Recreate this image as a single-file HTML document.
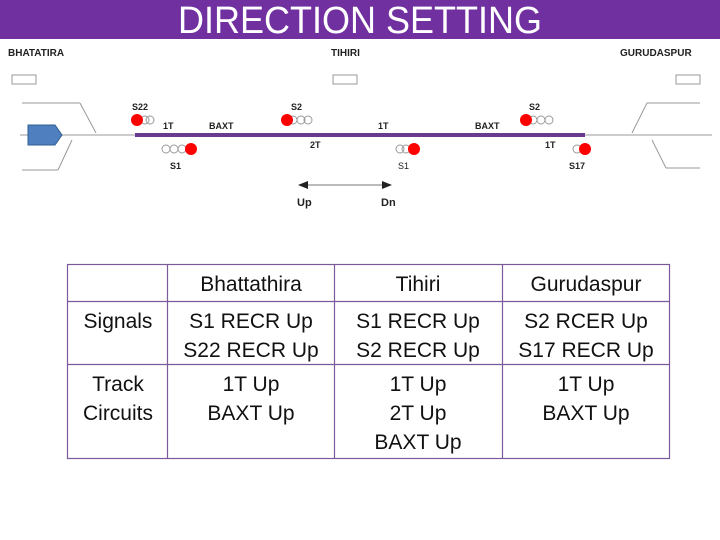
<!DOCTYPE html>
<html><head><meta charset="utf-8"><style>
body{margin:0;background:#fff}
svg{display:block}
</style></head><body>
<svg width="720" height="540" viewBox="0 0 720 540" font-family="Liberation Sans, sans-serif">
<rect x="0" y="0" width="720" height="39" fill="#7030a0"/>
<text x="360" y="33" text-anchor="middle" fill="#fff" font-size="38" textLength="364" lengthAdjust="spacingAndGlyphs">DIRECTION SETTING</text>
<g font-weight="bold" font-size="9" fill="#222">
<text x="8" y="56" font-size="10">BHATATIRA</text>
<text x="331" y="56" font-size="10">TIHIRI</text>
<text x="620" y="56" font-size="10">GURUDASPUR</text>
<g fill="none" stroke="#999" stroke-width="1">
<rect x="12" y="75" width="24" height="9"/><rect x="333" y="75" width="24" height="9"/><rect x="676" y="75" width="24" height="9"/>
<line x1="20" y1="135" x2="135" y2="135"/><line x1="585" y1="135" x2="712" y2="135"/>
<line x1="22" y1="103" x2="80" y2="103"/><line x1="80" y1="103" x2="96" y2="133"/>
<line x1="22" y1="170" x2="58" y2="170"/><line x1="58" y1="170" x2="72" y2="140"/>
<line x1="700" y1="103" x2="647" y2="103"/><line x1="647" y1="103" x2="632" y2="133"/>
<line x1="700" y1="168" x2="666" y2="168"/><line x1="666" y1="168" x2="652" y2="140"/>
<circle cx="145" cy="120" r="4"/><circle cx="150" cy="120" r="4"/>
<circle cx="293" cy="120" r="4"/><circle cx="301" cy="120" r="4"/><circle cx="308" cy="120" r="4"/>
<circle cx="166" cy="149" r="4"/><circle cx="174" cy="149" r="4"/><circle cx="182" cy="149" r="4"/>
<circle cx="400" cy="149" r="4"/><circle cx="406" cy="149" r="4"/>
<circle cx="533" cy="120" r="4"/><circle cx="541" cy="120" r="4"/><circle cx="549" cy="120" r="4"/>
<circle cx="577" cy="149" r="4"/>
</g>
<rect x="135" y="133" width="450" height="4" fill="#6a3a8e"/>
<polygon points="28,125 55,125 62,135 55,145 28,145" fill="#4f7fbf" stroke="#2f5f8f"/>
<g fill="#f00">
<circle cx="137" cy="120" r="6"/>
<circle cx="287" cy="120" r="6"/>
<circle cx="191" cy="149" r="6"/>
<circle cx="414" cy="149" r="6"/>
<circle cx="526" cy="120" r="6"/>
<circle cx="585" cy="149" r="6"/>
</g>
<text x="132" y="110">S22</text><text x="291" y="110">S2</text><text x="170" y="169">S1</text>
<text x="163" y="129">1T</text><text x="209" y="129">BAXT</text><text x="310" y="148">2T</text>
<text x="378" y="129">1T</text><text x="475" y="129">BAXT</text><text x="545" y="148">1T</text>
<text x="398" y="169" font-weight="normal">S1</text><text x="529" y="110">S2</text><text x="569" y="169">S17</text>
<line x1="300" y1="185" x2="390" y2="185" stroke="#777"/>
<polygon points="298,185 308,181 308,189" fill="#222"/><polygon points="392,185 382,181 382,189" fill="#222"/>
<text x="297" y="206" font-size="11">Up</text>
<text x="381" y="206" font-size="11">Dn</text>
</g>
<g stroke="#7a5a9a" stroke-width="1.2" fill="none">
<rect x="67.5" y="264.5" width="602" height="194"/>
<line x1="167.5" y1="264" x2="167.5" y2="458"/><line x1="334.5" y1="264" x2="334.5" y2="458"/><line x1="502.5" y1="264" x2="502.5" y2="458"/>
<line x1="67" y1="301.5" x2="669" y2="301.5"/><line x1="67" y1="364.5" x2="669" y2="364.5"/>
</g>
<g font-size="21" fill="#111" text-anchor="middle">
<text x="251" y="291">Bhattathira</text>
<text x="418" y="291">Tihiri</text>
<text x="586" y="291">Gurudaspur</text>
<text x="118" y="328">Signals</text>
<text x="118" y="391">Track</text>
<text x="118" y="420">Circuits</text>
<text x="251" y="328">S1 RECR Up</text><text x="251" y="357">S22 RECR Up</text>
<text x="418" y="328">S1 RECR Up</text><text x="418" y="357">S2 RECR Up</text>
<text x="586" y="328">S2 RCER Up</text><text x="586" y="357">S17 RECR Up</text>
<text x="251" y="391">1T Up</text><text x="251" y="420">BAXT Up</text>
<text x="418" y="391">1T Up</text><text x="418" y="420">2T Up</text><text x="418" y="449">BAXT Up</text>
<text x="586" y="391">1T Up</text><text x="586" y="420">BAXT Up</text>
</g>
</svg>
</body></html>
